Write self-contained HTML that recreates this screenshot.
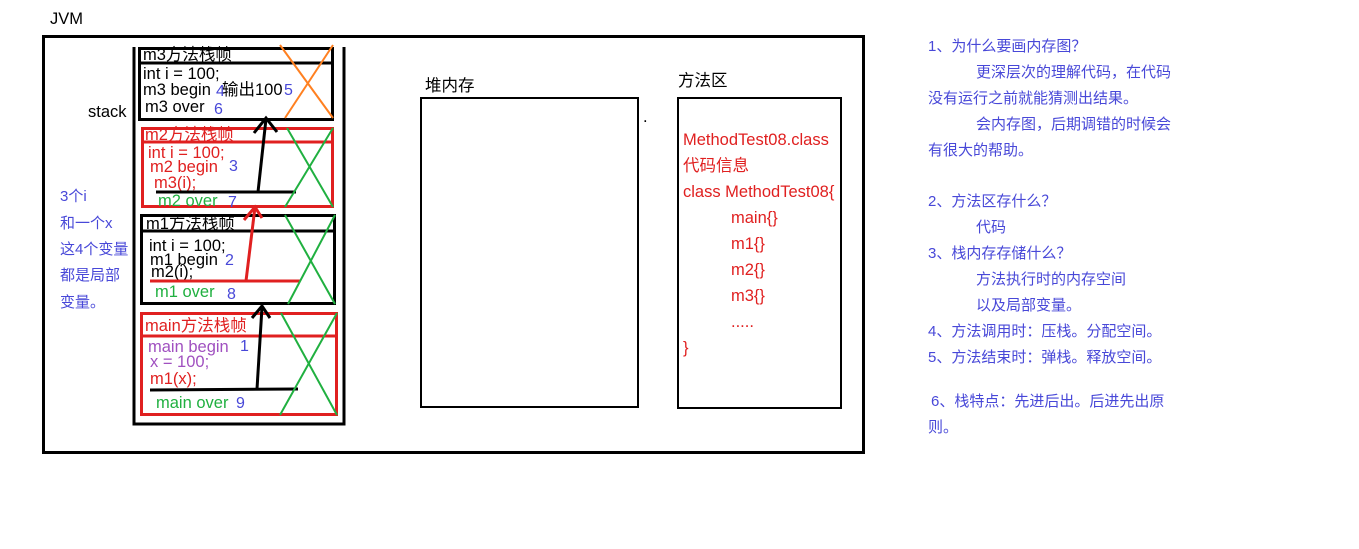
<!DOCTYPE html>
<html><head><meta charset="utf-8"><style>
html,body{margin:0;padding:0;background:#fff;width:1359px;height:549px;overflow:hidden}
svg{display:block}
text{font-family:"Liberation Sans","Noto Sans CJK SC",sans-serif}
.b{fill:#4848d8;font-size:15px}
.r{fill:#e02020;font-size:16.5px}
.k{fill:#000;font-size:16.5px}
.g{fill:#20b040;font-size:16.5px}
.p{fill:#a050c0;font-size:16.5px}
.n{fill:#4848d8;font-size:16px}
</style></head><body>
<svg width="1359" height="549" xmlns="http://www.w3.org/2000/svg">
<text x="50" y="24" class="k" font-size="15">JVM</text>
<rect x="43.5" y="36.5" width="820" height="416" fill="none" stroke="#000" stroke-width="3"/>
<polyline points="134,47 134,424 344,424 344,47" fill="none" stroke="#000" stroke-width="3"/>
<text x="88" y="117" class="k" font-size="15">stack</text>
<!-- m3 -->
<rect x="139.5" y="48.5" width="193" height="71" fill="none" stroke="#000" stroke-width="3"/>
<line x1="139" y1="63" x2="333" y2="63" stroke="#000" stroke-width="3"/>
<text x="143" y="60" class="k" font-size="14">m3方法栈帧</text>
<text x="143" y="79" class="k">int i = 100;</text>
<text x="143" y="95" class="k">m3 begin</text><text x="216" y="96" class="n">4</text>
<text x="222" y="95" class="k">输出100</text><text x="284" y="95" class="n">5</text>
<text x="145" y="112" class="k">m3 over</text><text x="214" y="114" class="n">6</text>
<line x1="280" y1="45" x2="333" y2="118" stroke="#ff8020" stroke-width="2"/>
<line x1="333" y1="45" x2="285" y2="118" stroke="#ff8020" stroke-width="2"/>
<!-- m2 -->
<rect x="142.5" y="128.5" width="190" height="78" fill="none" stroke="#e02020" stroke-width="3"/>
<line x1="142" y1="142" x2="333" y2="142" stroke="#e02020" stroke-width="3"/>
<text x="145" y="140" class="r" font-size="14">m2方法栈帧</text>
<text x="148" y="158" class="r">int i = 100;</text>
<text x="150" y="172" class="r">m2 begin</text><text x="229" y="171" class="n">3</text>
<text x="154" y="188" class="r">m3(i);</text>
<line x1="156" y1="192" x2="296" y2="192" stroke="#000" stroke-width="3"/>
<text x="158" y="206" class="g">m2 over</text><text x="228" y="207" class="n">7</text>
<line x1="287" y1="128" x2="333" y2="207" stroke="#20b040" stroke-width="2"/>
<line x1="333" y1="128" x2="285" y2="207" stroke="#20b040" stroke-width="2"/>
<!-- m1 -->
<rect x="141.5" y="215.5" width="193" height="88" fill="none" stroke="#000" stroke-width="3"/>
<line x1="141" y1="231" x2="335" y2="231" stroke="#000" stroke-width="3"/>
<text x="146" y="229" class="k" font-size="15">m1方法栈帧</text>
<text x="149" y="251" class="k">int i = 100;</text>
<text x="150" y="265" class="k">m1 begin</text><text x="225" y="265" class="n">2</text>
<text x="151" y="277" class="k">m2(i);</text>
<line x1="150" y1="281" x2="300" y2="281" stroke="#e02020" stroke-width="3"/>
<text x="155" y="297" class="g">m1 over</text><text x="227" y="299" class="n">8</text>
<line x1="285" y1="215" x2="335" y2="304" stroke="#20b040" stroke-width="2"/>
<line x1="335" y1="215" x2="288" y2="304" stroke="#20b040" stroke-width="2"/>
<!-- main -->
<rect x="141.5" y="313.5" width="195" height="101" fill="none" stroke="#e02020" stroke-width="3"/>
<line x1="141" y1="336" x2="337" y2="336" stroke="#e02020" stroke-width="3"/>
<text x="145" y="331" class="r" font-size="15.5">main方法栈帧</text>
<text x="148" y="352" class="p">main begin</text><text x="240" y="351" class="n">1</text>
<text x="150" y="367" class="p">x = 100;</text>
<text x="150" y="384" class="r">m1(x);</text>
<line x1="150" y1="390" x2="298" y2="389" stroke="#000" stroke-width="3"/>
<text x="156" y="408" class="g">main over</text><text x="236" y="408" class="n">9</text>
<line x1="281" y1="313" x2="337" y2="415" stroke="#20b040" stroke-width="2"/>
<line x1="337" y1="313" x2="280" y2="415" stroke="#20b040" stroke-width="2"/>
<g stroke="#000" stroke-width="3" fill="none">
<line x1="258" y1="192" x2="266" y2="119"/><polyline points="254,133 266,118 277,132"/>
<line x1="257" y1="389" x2="262" y2="307"/><polyline points="252,318 262,306 270,318"/>
</g>
<g stroke="#e02020" stroke-width="3" fill="none">
<line x1="246" y1="281" x2="255" y2="207"/><polyline points="244,220 255,207 262,218"/>
</g>
<text x="60" y="201" class="b">3个i</text>
<text x="60" y="228" class="b">和一个x</text>
<text x="60" y="254" class="b">这4个变量</text>
<text x="60" y="280" class="b">都是局部</text>
<text x="60" y="307" class="b">变量。</text>
<text x="425" y="91" class="k" font-size="14">堆内存</text>
<rect x="421" y="98" width="217" height="309" fill="none" stroke="#000" stroke-width="2"/>
<text x="643" y="122" class="k" font-size="12">.</text>
<text x="678" y="86" class="k" font-size="14">方法区</text>
<rect x="678" y="98" width="163" height="310" fill="none" stroke="#000" stroke-width="2"/>
<text x="683" y="145" class="r">MethodTest08.class</text>
<text x="683" y="171" class="r">代码信息</text>
<text x="683" y="197" class="r">class MethodTest08{</text>
<text x="731" y="223" class="r">main{}</text>
<text x="731" y="249" class="r">m1{}</text>
<text x="731" y="275" class="r">m2{}</text>
<text x="731" y="301" class="r">m3{}</text>
<text x="731" y="327" class="r">.....</text>
<text x="683" y="353" class="r">}</text>
<text x="928" y="51" class="b">1、为什么要画内存图？</text>
<text x="976" y="77" class="b">更深层次的理解代码，在代码</text>
<text x="928" y="103" class="b">没有运行之前就能猜测出结果。</text>
<text x="976" y="129" class="b">会内存图，后期调错的时候会</text>
<text x="928" y="155" class="b">有很大的帮助。</text>
<text x="928" y="206" class="b">2、方法区存什么？</text>
<text x="976" y="232" class="b">代码</text>
<text x="928" y="258" class="b">3、栈内存存储什么？</text>
<text x="976" y="284" class="b">方法执行时的内存空间</text>
<text x="976" y="310" class="b">以及局部变量。</text>
<text x="928" y="336" class="b">4、方法调用时：压栈。分配空间。</text>
<text x="928" y="362" class="b">5、方法结束时：弹栈。释放空间。</text>
<text x="931" y="406" class="b">6、栈特点：先进后出。后进先出原</text>
<text x="928" y="432" class="b">则。</text>
</svg>
</body></html>
